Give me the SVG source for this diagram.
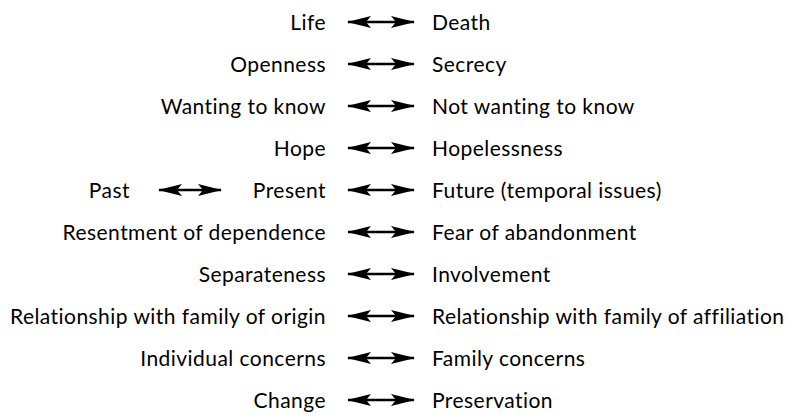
<svg xmlns="http://www.w3.org/2000/svg" width="791" height="416" viewBox="0 0 791 416">
  <style>
    text { font-family: "Lato", "Liberation Sans", sans-serif; font-size: 21px; letter-spacing: 0.45px; fill: #000; }
    .l { text-anchor: end; }
    .r { text-anchor: start; }
    .arrow { stroke: #000; stroke-width: 2.4; fill: none; marker-start: url(#head); marker-end: url(#head); }
  </style>
  <defs>
    <!-- swept-back arrowhead used at both ends of every connector -->
    <marker id="head" viewBox="0 0 24 12" refX="23" refY="6" markerWidth="24" markerHeight="12" markerUnits="userSpaceOnUse" orient="auto-start-reverse">
      <path d="M0,0 L24,6 L0,12 L5,6 Z" fill="#000"/>
    </marker>
  </defs>
  <rect width="791" height="416" fill="#fff"/>

  <g id="connectors">
    <line class="arrow" x1="348" y1="22" x2="414" y2="22"/>
    <line class="arrow" x1="348" y1="64" x2="414" y2="64"/>
    <line class="arrow" x1="348" y1="106" x2="414" y2="106"/>
    <line class="arrow" x1="348" y1="148" x2="414" y2="148"/>
    <line class="arrow" x1="159" y1="190" x2="221" y2="190"/>
    <line class="arrow" x1="348" y1="190" x2="414" y2="190"/>
    <line class="arrow" x1="348" y1="232" x2="414" y2="232"/>
    <line class="arrow" x1="348" y1="274" x2="414" y2="274"/>
    <line class="arrow" x1="348" y1="316" x2="414" y2="316"/>
    <line class="arrow" x1="348" y1="358" x2="414" y2="358"/>
    <line class="arrow" x1="348" y1="400" x2="414" y2="400"/>
  </g>

  <g id="life"><text class="l" x="326" y="29.5">Life</text></g>
  <g id="death"><text class="r" x="432" y="29.5">Death</text></g>
  <g id="openness"><text class="l" x="326" y="71.5">Openness</text></g>
  <g id="secrecy"><text class="r" x="432" y="71.5">Secrecy</text></g>
  <g id="wanting"><text class="l" x="326" y="113.5">Wanting to know</text></g>
  <g id="not-wanting"><text class="r" x="432" y="113.5">Not wanting to know</text></g>
  <g id="hope"><text class="l" x="326" y="155.5">Hope</text></g>
  <g id="hopelessness"><text class="r" x="432" y="155.5">Hopelessness</text></g>
  <g id="past"><text class="l" x="130" y="197.5">Past</text></g>
  <g id="present"><text class="l" x="326" y="197.5">Present</text></g>
  <g id="future"><text class="r" x="432" y="197.5">Future (temporal issues)</text></g>
  <g id="resentment"><text class="l" x="326" y="239.5">Resentment of dependence</text></g>
  <g id="abandonment"><text class="r" x="432" y="239.5">Fear of abandonment</text></g>
  <g id="separateness"><text class="l" x="326" y="281.5">Separateness</text></g>
  <g id="involvement"><text class="r" x="432" y="281.5">Involvement</text></g>
  <g id="origin"><text class="l" x="326" y="323.5">Relationship with family of origin</text></g>
  <g id="affiliation"><text class="r" x="432" y="323.5">Relationship with family of affiliation</text></g>
  <g id="individual"><text class="l" x="326" y="365.5">Individual concerns</text></g>
  <g id="family"><text class="r" x="432" y="365.5">Family concerns</text></g>
  <g id="change"><text class="l" x="326" y="407.5">Change</text></g>
  <g id="preservation"><text class="r" x="432" y="407.5">Preservation</text></g>
</svg>
